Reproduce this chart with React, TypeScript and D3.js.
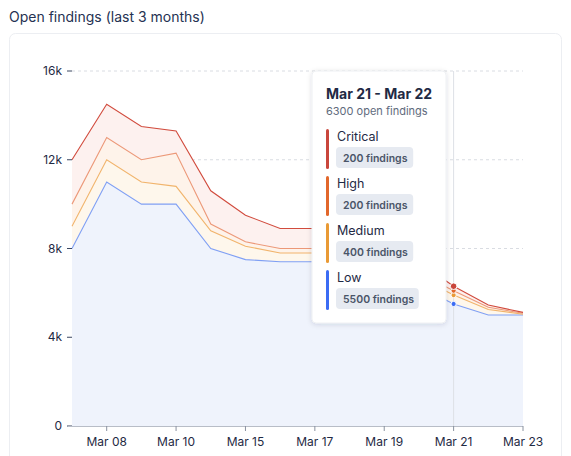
import React from 'react';
import * as d3 from 'd3';

// Chart data
const dates = ["Mar 07", "Mar 08", "Mar 09", "Mar 10", "Mar 14", "Mar 15", "Mar 16", "Mar 17", "Mar 18", "Mar 19", "Mar 20", "Mar 21", "Mar 22", "Mar 23"];
const lowValues = [8000, 11000, 10000, 10000, 8000, 7500, 7400, 7400, 7200, 6800, 6300, 5500, 5000, 5000];
const mediumValues = [1000, 1000, 1000, 800, 800, 600, 400, 400, 400, 400, 400, 400, 250, 40];
const highValues = [1000, 1000, 1000, 1500, 300, 200, 200, 200, 200, 200, 200, 200, 100, 40];
const criticalValues = [2000, 1500, 1500, 1000, 1500, 1200, 900, 900, 800, 600, 500, 200, 100, 40];
const yTicks = [0, 4000, 8000, 12000, 16000];
const tickDates = ["Mar 08", "Mar 10", "Mar 15", "Mar 17", "Mar 19", "Mar 21", "Mar 23"];
const hoverIndex = 11;

const keys = ["low", "medium", "high", "critical"] as const;
const labels: Record<string, string> = { critical: "Critical", high: "High", medium: "Medium", low: "Low" };
const lineColors: Record<string, string> = { low: "#7f9ff4", medium: "#f1b46c", high: "#ec9878", critical: "#d14b3d" };
const fillColors: Record<string, string> = { low: "#eff3fc", medium: "#fef7ec", high: "#fef3ea", critical: "#fdf1ef" };
const dotColors: Record<string, string> = { low: "#3b6cf4", medium: "#e99a35", high: "#e2672b", critical: "#c9463c" };
const barColors: Record<string, string> = { critical: "#c9463c", high: "#e2672b", medium: "#e99a35", low: "#3b6cf4" };

const FONT = "Inter, 'Noto Sans', sans-serif";

function App() {
  const rows = dates.map((d, i) => ({
    date: d,
    low: lowValues[i],
    medium: mediumValues[i],
    high: highValues[i],
    critical: criticalValues[i],
  }));

  const series = d3.stack<any>().keys(keys as unknown as string[])(rows);

  const x = d3.scalePoint<string>().domain(dates).range([72, 523]);
  const y = d3.scaleLinear().domain([0, 16000]).range([426, 71]);

  const area = d3
    .area<any>()
    .x((d) => x(d.data.date)!)
    .y0((d) => y(d[0]))
    .y1((d) => y(d[1]));
  const line = d3
    .line<any>()
    .x((d) => x(d.data.date)!)
    .y((d) => y(d[1]));

  const hoverDate = dates[hoverIndex];
  const hx = x(hoverDate)!;
  const total = keys.reduce((s, k) => s + (rows[hoverIndex] as any)[k], 0);
  const tipItems = ["critical", "high", "medium", "low"];

  return (
    <svg width={571} height={456} style={{ position: "absolute", left: 0, top: 0, fontFamily: FONT }}>
      <defs>
        <filter id="shadow" x="-20%" y="-20%" width="140%" height="140%">
          <feDropShadow dx="0" dy="1" stdDeviation="2.5" floodColor="#1e293b" floodOpacity="0.14" />
        </filter>
      </defs>
      <rect width={571} height={456} fill="#ffffff" />
      <text x={9} y={22} fontSize={14} fill="#253252">Open findings (last 3 months)</text>
      <rect x={9.5} y={33.5} width={552} height={440} rx={6} fill="#ffffff" stroke="#eceef2" />

      {/* grid */}
      {yTicks.filter((t) => t > 0).map((t) => (
        <line key={t} x1={72} x2={523} y1={y(t)} y2={y(t)} stroke="#d9dce2" strokeDasharray="3,3" />
      ))}

      {/* stacked areas */}
      {series.map((s) => (
        <path key={s.key + "a"} d={area(s) || ""} fill={fillColors[s.key]} />
      ))}
      {series.map((s) => (
        <path key={s.key + "l"} d={line(s) || ""} fill="none" stroke={lineColors[s.key]} strokeWidth={1.1} />
      ))}

      {/* y axis */}
      {yTicks.map((t) => (
        <g key={t} transform={`translate(0,${y(t)})`}>
          <line x1={67} x2={72} stroke="#3a4660" />
          <text x={62} dy="0.35em" textAnchor="end" fontSize={12} fill="#1f2a44">
            {t === 0 ? "0" : `${t / 1000}k`}
          </text>
        </g>
      ))}

      {/* x axis */}
      <line x1={68} x2={523} y1={426.5} y2={426.5} stroke="#b8bdc7" />
      {tickDates.map((d) => (
        <g key={d} transform={`translate(${x(d)},0)`}>
          <line y1={426} y2={431} stroke="#8a92a0" />
          <text y={446} textAnchor="middle" fontSize={12} fill="#1f2a44">{d}</text>
        </g>
      ))}

      {/* hover crosshair */}
      <line x1={hx} x2={hx} y1={71} y2={426} stroke="#dde0e6" />
      {series.map((s) => (
        <circle
          key={s.key + "dot"}
          cx={hx}
          cy={y(s[hoverIndex][1])}
          r={s.key === "critical" ? 3.3 : 2.6}
          fill={dotColors[s.key]}
          stroke="#ffffff"
          strokeWidth={1}
        />
      ))}

      {/* tooltip */}
      <g transform="translate(312,71)">
        <rect width={134} height={252} rx={4} fill="#ffffff" stroke="#eef0f3" filter="url(#shadow)" />
        <text x={14} y={28} fontSize={14} fontWeight={700} fill="#1f2a44">
          {`${hoverDate} - ${dates[hoverIndex + 1]}`}
        </text>
        <text x={14} y={44} fontSize={11} fill="#5f6b7d">{`${total} open findings`}</text>
        {tipItems.map((k, i) => {
          const v = (rows[hoverIndex] as any)[k];
          const label = `${v} findings`;
          const w = label.length * 5.6 + 10;
          return (
            <g key={k} transform={`translate(0,${58 + i * 47})`}>
              <rect x={14} y={0} width={3} height={40} rx={1.5} fill={barColors[k]} />
              <text x={25} y={12} fontSize={12.5} fill="#1f2a44">{labels[k]}</text>
              <rect x={24} y={18} width={w} height={21} rx={4} fill="#e6eaf1" />
              <text x={31} y={33} fontSize={10.5} fontWeight={600} fill="#4a5568">{label}</text>
            </g>
          );
        })}
      </g>
    </svg>
  );
}

export default App;
